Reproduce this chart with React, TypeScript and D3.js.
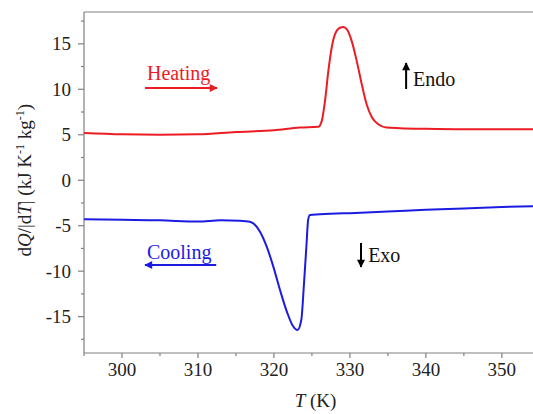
import * as d3 from "d3";

const heatT = [295, 300, 305, 310, 315, 320, 323.4, 325.84, 326.29, 326.72, 327.16, 327.6, 328.03, 328.7, 329.13, 329.6, 330.24, 330.9, 331.56, 332.2, 332.87, 333.74, 334.8, 336.6, 340, 345, 350, 354.1];
const heatQ = [5.2, 5.05, 5.0, 5.05, 5.3, 5.5, 5.79, 5.87, 6.5, 8.7, 12.0, 14.57, 16.04, 16.77, 16.84, 16.59, 15.3, 13.1, 10.56, 8.36, 6.96, 6.15, 5.79, 5.72, 5.65, 5.6, 5.6, 5.6];

const coolT = [295, 300, 305, 310, 313, 315.5, 316.85, 318.17, 319.05, 319.92, 320.8, 321.7, 322.5, 323.1, 323.6, 323.96, 324.3, 324.5, 324.75, 327.4, 330, 335, 340, 345, 350, 354.1];
const coolQ = [-4.3, -4.35, -4.4, -4.55, -4.4, -4.45, -4.56, -5.66, -7.31, -9.5, -12.07, -14.45, -16.03, -16.47, -15.37, -11.33, -6.9, -4.37, -3.82, -3.7, -3.62, -3.45, -3.25, -3.1, -2.95, -2.85];

const xTicks = [300, 310, 320, 330, 340, 350];
const xMinor = [295, 305, 315, 325, 335, 345];
const yTicks = [-15, -10, -5, 0, 5, 10, 15];
const yMinor = [-17.5, -12.5, -7.5, -2.5, 2.5, 7.5, 12.5, 17.5];

const W = 533;
const H = 414;
const LEFT = 84;
const RIGHT = 533;
const TOP = 12;
const BOTTOM = 353;

const RED = "#ec1c24";
const BLUE = "#1c1ce0";
const AXIS = "#808080";
const FONT = "Liberation Serif, Times New Roman, DejaVu Serif, serif";

export default function App() {
  const x = d3.scaleLinear().domain([295, 354.1]).range([LEFT, RIGHT]);
  const y = d3.scaleLinear().domain([-19, 18.5]).range([BOTTOM, TOP]);

  // smooth spline through the read-off points
  const line = d3
    .line<[number, number]>()
    .x((d) => x(d[0]))
    .y((d) => y(d[1]))
    .curve(d3.curveMonotoneX);

  const heatPath = line(heatT.map((t, i) => [t, heatQ[i]]));
  const coolPath = line(coolT.map((t, i) => [t, coolQ[i]]));

  const txt = { fontFamily: FONT };

  return (
    <svg
      width={W}
      height={H}
      style={{ position: "absolute", left: 0, top: 0, background: "white", fontFamily: FONT }}
    >
      <defs>
        <marker id="hR" viewBox="0 0 10 10" refX="9" refY="5" markerWidth="5" markerHeight="4" orient="auto" markerUnits="strokeWidth">
          <path d="M0,0 L10,5 L0,10 z" fill={RED} />
        </marker>
        <marker id="hB" viewBox="0 0 10 10" refX="9" refY="5" markerWidth="5" markerHeight="4" orient="auto" markerUnits="strokeWidth">
          <path d="M0,0 L10,5 L0,10 z" fill={BLUE} />
        </marker>
        <marker id="hK" viewBox="0 0 10 10" refX="9" refY="5" markerWidth="5" markerHeight="4" orient="auto" markerUnits="strokeWidth">
          <path d="M0,0 L10,5 L0,10 z" fill="#000" />
        </marker>
      </defs>

      {/* frame */}
      <line x1={LEFT} x2={RIGHT} y1={TOP} y2={TOP} stroke={AXIS} strokeWidth={1.2} />
      <line x1={LEFT} x2={LEFT} y1={TOP} y2={BOTTOM} stroke={AXIS} strokeWidth={1.2} />
      <line x1={LEFT} x2={RIGHT} y1={BOTTOM} y2={BOTTOM} stroke={AXIS} strokeWidth={1.2} />

      {/* x ticks */}
      {xTicks.map((t) => (
        <g key={"x" + t}>
          <line x1={x(t)} x2={x(t)} y1={BOTTOM} y2={BOTTOM + 5} stroke={AXIS} strokeWidth={1.2} />
          <text x={x(t)} y={BOTTOM + 23} textAnchor="middle" fontSize={19} fill="#222" style={txt}>
            {t}
          </text>
        </g>
      ))}
      {xMinor.map((t) => (
        <line key={"xm" + t} x1={x(t)} x2={x(t)} y1={BOTTOM} y2={BOTTOM + 3} stroke={AXIS} strokeWidth={1.2} />
      ))}

      {/* y ticks */}
      {yTicks.map((v) => (
        <g key={"y" + v}>
          <line x1={LEFT - 6} x2={LEFT} y1={y(v)} y2={y(v)} stroke={AXIS} strokeWidth={1.2} />
          <text x={LEFT - 13} y={y(v)} dy="0.34em" textAnchor="end" fontSize={19} fill="#222" style={txt}>
            {v}
          </text>
        </g>
      ))}
      {yMinor.map((v) => (
        <line key={"ym" + v} x1={LEFT - 3} x2={LEFT} y1={y(v)} y2={y(v)} stroke={AXIS} strokeWidth={1.2} />
      ))}

      {/* axis titles */}
      <text x={(LEFT + RIGHT) / 2 + 7} y={407} textAnchor="middle" fontSize={19} fill="#222" style={txt}>
        <tspan fontStyle="italic">T</tspan> (K)
      </text>
      <text transform={`translate(31, ${y(0)}) rotate(-90)`} textAnchor="middle" fontSize={19} fill="#222" style={txt}>
        d<tspan fontStyle="italic">Q</tspan>/|d<tspan fontStyle="italic">T</tspan>| (kJ K
        <tspan baselineShift="super" fontSize={12}>-1</tspan> kg
        <tspan baselineShift="super" fontSize={12}>-1</tspan>)
      </text>

      {/* curves */}
      <path d={heatPath ?? ""} fill="none" stroke={RED} strokeWidth={2} />
      <path d={coolPath ?? ""} fill="none" stroke={BLUE} strokeWidth={2} />

      {/* annotations */}
      <text x={x(303.29)} y={y(11.02)} fontSize={20} fill={RED} style={txt}>Heating</text>
      <line x1={x(303.03)} x2={x(312.5)} y1={y(10.14)} y2={y(10.14)} stroke={RED} strokeWidth={2} markerEnd="url(#hR)" />

      <text x={x(303.29)} y={y(-8.66)} fontSize={20} fill={BLUE} style={txt}>Cooling</text>
      <line x1={x(312.4)} x2={x(303.03)} y1={y(-9.32)} y2={y(-9.32)} stroke={BLUE} strokeWidth={2} markerEnd="url(#hB)" />

      <line x1={x(337.4)} x2={x(337.4)} y1={y(10.03)} y2={y(12.89)} stroke="#000" strokeWidth={2} markerEnd="url(#hK)" />
      <text x={x(338.3)} y={y(10.36)} fontSize={20} fill="#111" style={txt}>Endo</text>

      <line x1={x(331.46)} x2={x(331.46)} y1={y(-6.9)} y2={y(-9.54)} stroke="#000" strokeWidth={2} markerEnd="url(#hK)" />
      <text x={x(332.4)} y={y(-8.99)} fontSize={20} fill="#111" style={txt}>Exo</text>
    </svg>
  );
}
